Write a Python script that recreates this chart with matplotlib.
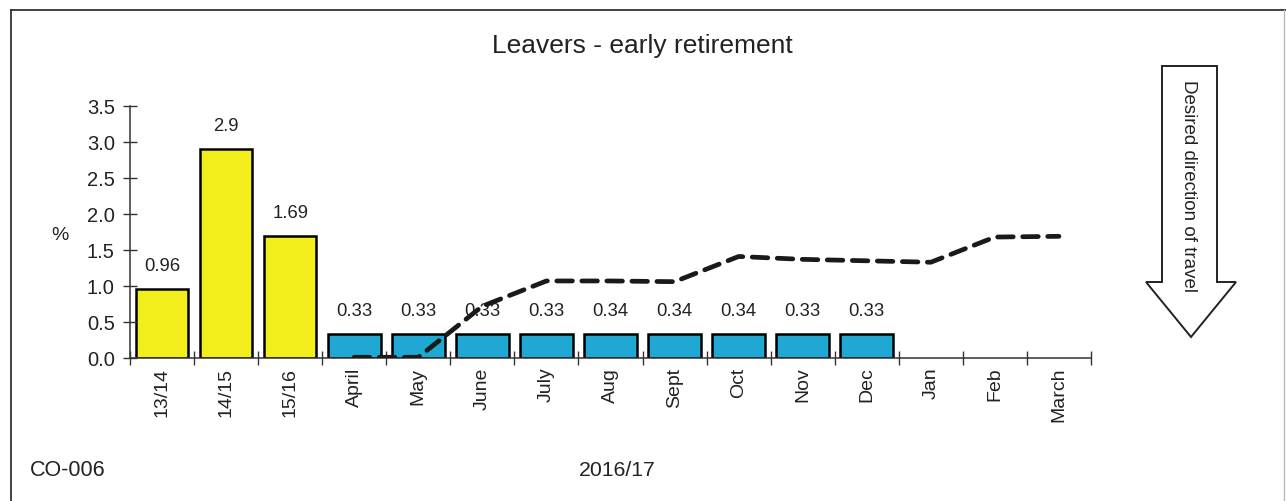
import matplotlib
matplotlib.use("Agg")
import matplotlib.pyplot as plt
from matplotlib.lines import Line2D
from matplotlib.patches import Polygon
import numpy as np

plt.rcParams['font.family'] = ['Liberation Sans', 'DejaVu Sans']

categories = ["13/14", "14/15", "15/16", "April", "May", "June", "July", "Aug",
              "Sept", "Oct", "Nov", "Dec", "Jan", "Feb", "March"]
annual_values = [0.96, 2.9, 1.69]
annual_labels = ["0.96", "2.9", "1.69"]
monthly_values = [0.33, 0.33, 0.33, 0.33, 0.34, 0.34, 0.34, 0.33, 0.33]
monthly_labels = ["0.33", "0.33", "0.33", "0.33", "0.34", "0.34", "0.34", "0.33", "0.33"]
target_line = [0.01, 0.01, 0.72, 1.07, 1.07, 1.06, 1.41, 1.37, 1.35, 1.33, 1.68, 1.69]
yticks = [0.0, 0.5, 1.0, 1.5, 2.0, 2.5, 3.0, 3.5]

W, H = 1286, 501
fig = plt.figure(figsize=(W / 100, H / 100), dpi=100)

def fx(px):
    return px / W

def fy(py):
    return 1 - py / H

ax = fig.add_axes([fx(130), fy(358), fx(1091) - fx(130), fy(106) - fy(358)])

x = np.arange(len(categories))
yellow = "#F2EE1C"
blue = "#1FA8D3"
bw = 0.82

bars1 = ax.bar(x[:3], annual_values, width=bw, color=yellow, edgecolor="black", linewidth=1.8)
bars2 = ax.bar(x[3:3 + len(monthly_values)], monthly_values, width=bw, color=blue,
               edgecolor="black", linewidth=1.8)

for b, lab in zip(list(bars1) + list(bars2), annual_labels + monthly_labels):
    ax.annotate(lab, (b.get_x() + b.get_width() / 2, b.get_height()),
                xytext=(0, 10), textcoords="offset points", ha="center", va="bottom",
                fontsize=13.3, color="#222222")

ax.plot(x[3:3 + len(target_line)], target_line, color="#1a1a1a", linewidth=3.4,
        dashes=(3.3, 2.0), dash_capstyle="round", zorder=5)

ax.set_xlim(-0.5, len(categories) - 0.5)
ax.set_ylim(0, 3.5)
ax.set_yticks(yticks)
ax.set_yticklabels([f"{v:.1f}" for v in yticks])
ax.set_xticks(x)
ax.set_xticklabels(categories, rotation=90, va="top", ha="center")
ax.set_xticks(np.arange(-0.5, len(categories), 1.0), minor=True)
ax.tick_params(axis="x", which="major", length=0, pad=7, labelsize=14, labelcolor="#222222")
ax.tick_params(axis="x", which="minor", length=10, direction="inout", width=1, color="#333333")
ax.tick_params(axis="y", length=10, direction="inout", width=1, pad=6, labelsize=14.5,
               labelcolor="#222222", color="#333333")
for s in ["top", "right"]:
    ax.spines[s].set_visible(False)
for s in ["left", "bottom"]:
    ax.spines[s].set_color("#333333")
    ax.spines[s].set_linewidth(1.1)

# titles and texts
fig.text(fx(642), fy(46), "Leavers - early retirement", ha="center", va="center",
         fontsize=19, color="#222222")
fig.text(fx(60), fy(235), "%", ha="center", va="center", fontsize=14, color="#222222")
fig.text(fx(617), fy(470), "2016/17", ha="center", va="center", fontsize=15.3, color="#222222")
fig.text(fx(30), fy(470), "CO-006", ha="left", va="center", fontsize=15.5, color="#222222")

# arrow
arrow_px = [(1162, 66), (1217, 66), (1217, 282), (1236, 282), (1191, 337),
            (1146, 282), (1162, 282)]
arrow = Polygon([(fx(a), fy(b)) for a, b in arrow_px], closed=True, facecolor="white",
                edgecolor="#222222", linewidth=1.4, transform=fig.transFigure)
fig.patches.append(arrow)
fig.text(fx(1189), fy(80), "Desired direction of travel", rotation=-90, ha="left",
         va="center", fontsize=13.5, color="#222222", rotation_mode="anchor")

# outer frame
fig.lines.append(Line2D([fx(11), fx(1286)], [fy(10), fy(10)], transform=fig.transFigure,
                        color="#333333", linewidth=1.3))
fig.lines.append(Line2D([fx(11), fx(11)], [fy(10), fy(501)], transform=fig.transFigure,
                        color="#333333", linewidth=1.3))
fig.lines.append(Line2D([fx(1284), fx(1284)], [fy(10), fy(501)], transform=fig.transFigure,
                        color="#bbbbbb", linewidth=1.0))

fig.savefig("out.png", dpi=100)
